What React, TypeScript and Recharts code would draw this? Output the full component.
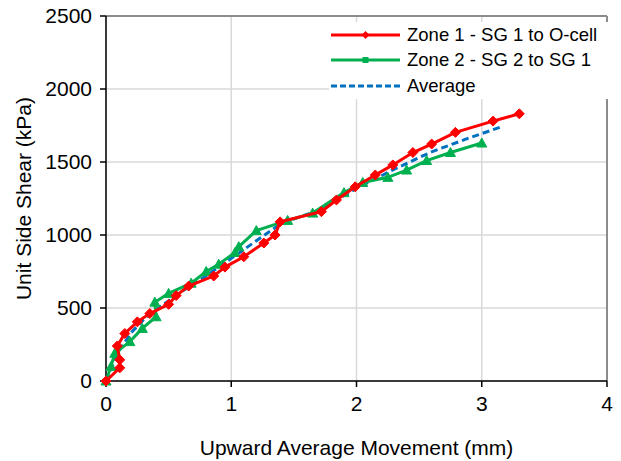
import React from "react";
import {
  ScatterChart,
  Scatter,
  XAxis,
  YAxis,
  CartesianGrid,
  ReferenceLine,
} from "recharts";

const zone1X = [0, 0.11, 0.11, 0.09, 0.15, 0.25, 0.35, 0.5, 0.56, 0.66, 0.86, 0.95, 1.1, 1.26, 1.35, 1.39, 1.72, 1.84, 1.99, 2.15, 2.29, 2.45, 2.6, 2.79, 3.09, 3.3];
const zone1Y = [0, 90, 145, 240, 325, 405, 462, 525, 585, 650, 719, 780, 851, 945, 1000, 1090, 1160, 1240, 1330, 1411, 1480, 1565, 1623, 1703, 1780, 1830];

const zone2X = [0, 0.04, 0.07, 0.19, 0.29, 0.4, 0.39, 0.5, 0.68, 0.8, 0.9, 1.03, 1.06, 1.2, 1.45, 1.65, 1.9, 2.05, 2.25, 2.4, 2.56, 2.75, 3.0];
const zone2Y = [0, 100, 190, 270, 360, 440, 540, 600, 670, 750, 800, 880, 920, 1030, 1100, 1150, 1290, 1360, 1395, 1445, 1510, 1565, 1630];

const avgX = [0, 0.05, 0.1, 0.2, 0.3, 0.45, 0.6, 0.8, 1.0, 1.2, 1.4, 1.7, 2.0, 2.3, 2.6, 2.9, 3.17];
const avgY = [0, 100, 200, 330, 420, 520, 610, 720, 840, 960, 1080, 1170, 1320, 1450, 1570, 1665, 1745];

const xTicks = [0, 1, 2, 3, 4];
const yTicks = [0, 500, 1000, 1500, 2000, 2500];

const seriesNames = ["Zone 1 - SG 1 to O-cell", "Zone 2 - SG 2 to SG 1", "Average"];

const toPoints = (xs: number[], ys: number[]) => xs.map((x, i) => ({ x, y: ys[i] }));
const zone1 = toPoints(zone1X, zone1Y);
const zone2 = toPoints(zone2X, zone2Y);
const avg = toPoints(avgX, avgY);

const RED = "#FF0000";
const GREEN = "#00B050";
const BLUE = "#0070C0";
const FONT = "'Liberation Sans', Arial, sans-serif";

const Diamond = (props: any) => {
  const { cx, cy } = props;
  if (cx == null || cy == null) return <g />;
  const r = 5;
  return <path d={`M${cx},${cy - r}L${cx + r},${cy}L${cx},${cy + r}L${cx - r},${cy}Z`} fill={RED} stroke={RED} />;
};

const Triangle = (props: any) => {
  const { cx, cy } = props;
  if (cx == null || cy == null) return <g />;
  const r = 5;
  return <path d={`M${cx},${cy - r}L${cx + r},${cy + r * 0.8}L${cx - r},${cy + r * 0.8}Z`} fill={GREEN} stroke={GREEN} />;
};

const Empty = () => <g />;

const LegendBox = () => {
  const rows = [
    { name: seriesNames[0], color: RED, kind: "diamond" },
    { name: seriesNames[1], color: GREEN, kind: "square" },
    { name: seriesNames[2], color: BLUE, kind: "dash" },
  ];
  return (
    <div
      style={{
        position: "absolute",
        left: 329,
        top: 22,
        width: 280,
        fontFamily: FONT,
        fontSize: 18.5,
        color: "#000",
        background: "#fff",
      }}
    >
      {rows.map((r, i) => (
        <div key={i} style={{ display: "flex", alignItems: "center", height: 25.5 }}>
          <svg width={76} height={12} style={{ marginRight: 2 }}>
            <line
              x1={2}
              x2={71}
              y1={6}
              y2={6}
              stroke={r.color}
              strokeWidth={3}
              strokeDasharray={r.kind === "dash" ? "6 3" : undefined}
            />
            {r.kind === "diamond" && <path d="M36.5,2L40.5,6L36.5,10L32.5,6Z" fill={r.color} />}
            {r.kind === "square" && <rect x={33.5} y={3} width={6} height={6} fill={r.color} />}
          </svg>
          <span style={{ lineHeight: "20px" }}>{r.name}</span>
        </div>
      ))}
    </div>
  );
};

export default function App() {
  return (
    <div style={{ position: "absolute", left: 0, top: 0, width: 621, height: 461, background: "#fff" }}>
      <ScatterChart
        width={621}
        height={461}
        margin={{ top: 16, right: 14, bottom: 0, left: 0 }}
        style={{ fontFamily: FONT }}
      >
        <CartesianGrid stroke="#D9D9D9" strokeWidth={1.5} />
        <XAxis
          type="number"
          dataKey="x"
          domain={[0, 4]}
          ticks={xTicks}
          height={80}
          tickSize={6}
          tickMargin={9}
          stroke="#000"
          strokeWidth={1.5}
          tick={{ fill: "#000", fontSize: 21, fontFamily: FONT }}
          label={{
            value: "Upward Average Movement (mm)",
            position: "insideBottom",
            offset: 6,
            fill: "#000",
            fontSize: 21,
            fontFamily: FONT,
          }}
        />
        <YAxis
          type="number"
          dataKey="y"
          domain={[0, 2500]}
          ticks={yTicks}
          width={106}
          tickSize={6}
          tickMargin={8}
          stroke="#000"
          strokeWidth={1.5}
          tick={{ fill: "#000", fontSize: 21, fontFamily: FONT }}
          label={{
            value: "Unit Side Shear (kPa)",
            angle: -90,
            position: "insideLeft",
            offset: 24,
            style: { textAnchor: "middle" },
            fill: "#000",
            fontSize: 21,
            fontFamily: FONT,
          }}
        />
        <ReferenceLine y={2500} stroke="#8C8C8C" strokeWidth={2} />
        <ReferenceLine x={4} stroke="#8C8C8C" strokeWidth={2} />
        <Scatter
          name={seriesNames[2]}
          data={avg}
          line={{ stroke: BLUE, strokeWidth: 3, strokeDasharray: "7 4" }}
          lineType="joint"
          shape={<Empty />}
          isAnimationActive={false}
        />
        <Scatter
          name={seriesNames[1]}
          data={zone2}
          line={{ stroke: GREEN, strokeWidth: 3 }}
          lineType="joint"
          shape={<Triangle />}
          isAnimationActive={false}
        />
        <Scatter
          name={seriesNames[0]}
          data={zone1}
          line={{ stroke: RED, strokeWidth: 3 }}
          lineType="joint"
          shape={<Diamond />}
          isAnimationActive={false}
        />
      </ScatterChart>
      <LegendBox />
    </div>
  );
}
